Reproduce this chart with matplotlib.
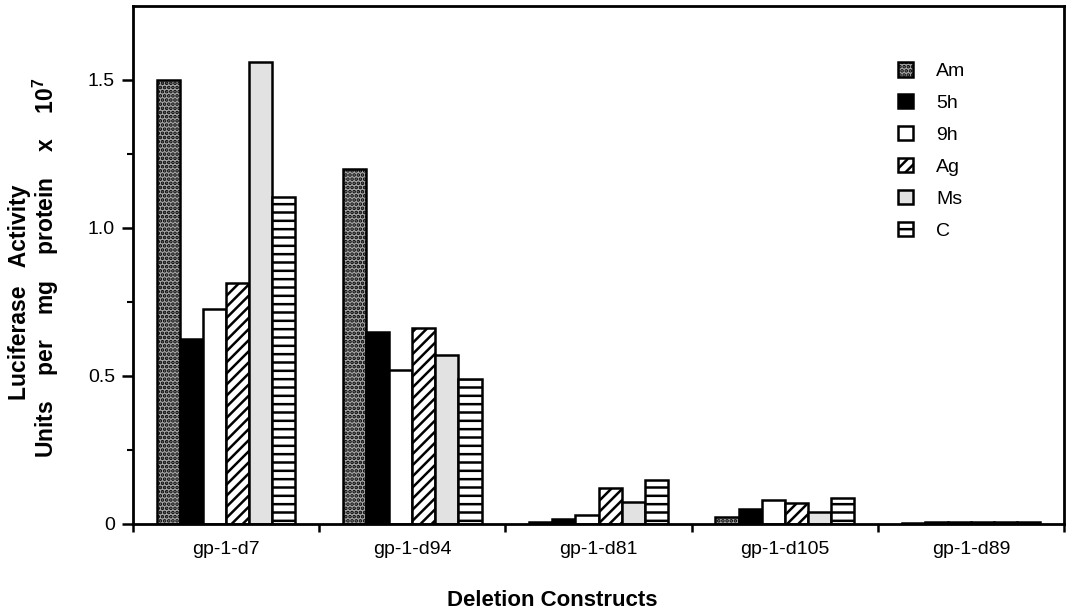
import matplotlib
matplotlib.use("Agg")
import matplotlib.pyplot as plt
import numpy as np
from matplotlib.patches import Patch
from matplotlib.ticker import FixedLocator

plt.rcParams['font.family'] = ['Liberation Sans', 'DejaVu Sans']
plt.rcParams['mathtext.fontset'] = 'custom'
plt.rcParams['mathtext.rm'] = 'Liberation Sans'
plt.rcParams['mathtext.bf'] = 'Liberation Sans:bold'
plt.rcParams['hatch.linewidth'] = 1.8

constructs = ["gp-1-d7", "gp-1-d94", "gp-1-d81", "gp-1-d105", "gp-1-d89"]
series = ["Am", "5h", "9h", "Ag", "Ms", "C"]
am = [1.50, 1.20, 0.007, 0.022, 0.005]
h5 = [0.625, 0.649, 0.018, 0.052, 0.006]
h9 = [0.726, 0.52, 0.030, 0.080, 0.007]
ag = [0.814, 0.662, 0.122, 0.070, 0.007]
ms = [1.56, 0.571, 0.074, 0.040, 0.008]
c = [1.105, 0.49, 0.147, 0.088, 0.008]
values = [am, h5, h9, ag, ms, c]
ytick_vals = [0, 0.5, 1.0, 1.5]
ytick_labels = ["0", "0.5", "1.0", "1.5"]

styles = [
    dict(facecolor='#a6a6a6', hatch='....'),
    dict(facecolor='black', hatch=None),
    dict(facecolor='white', hatch=None),
    dict(facecolor='white', hatch='///'),
    dict(facecolor='#e2e2e2', hatch=None),
    dict(facecolor='white', hatch='--'),
]

fig = plt.figure(figsize=(10.68, 6.15), dpi=100)
ax = fig.add_axes([133/1068, (615-524)/615, (1064-133)/1068, (524-6)/615])

x = np.arange(len(constructs))
w = 0.124
for i, (vals, st) in enumerate(zip(values, styles)):
    ax.bar(x + (i - 2.5) * w, vals, width=w, facecolor=st['facecolor'],
           hatch=st['hatch'], edgecolor='black', linewidth=1.8, zorder=2)

ax.set_xlim(-0.5, 4.5)
ax.set_ylim(0, 1.75)
ax.set_xticks(x)
ax.set_xticklabels(constructs, fontsize=14)
ax.xaxis.set_minor_locator(FixedLocator(np.arange(-0.5, 5.0, 1.0)))
ax.tick_params(axis='x', which='major', length=0, pad=12)
ax.tick_params(axis='x', which='minor', length=6, width=1.8, direction='out')
ax.set_yticks(ytick_vals)
ax.set_yticklabels(ytick_labels, fontsize=14)
ax.yaxis.set_minor_locator(FixedLocator([0.25, 0.75, 1.25]))
ax.tick_params(axis='y', which='major', length=8, width=1.8, direction='out', pad=5)
ax.tick_params(axis='y', which='minor', length=4, width=1.5, direction='out')
for s in ax.spines.values():
    s.set_linewidth(2.0)

handles = [Patch(facecolor=st['facecolor'], hatch=st['hatch'], edgecolor='black',
                 linewidth=1.8) for st in styles]
ax.legend(handles, series, loc='upper left', bbox_to_anchor=(0.803, 0.925),
          frameon=False, fontsize=14, handlelength=0.75, handleheight=0.75,
          labelspacing=0.72, handletextpad=1.2)

fig.text(552/1068, (615-600)/615, "Deletion Constructs", ha='center', va='center',
         fontsize=16, fontweight='bold')
fig.text(20/1068, (615-292)/615, "Luciferase   Activity", rotation=90, ha='center',
         va='center', fontsize=16.5, fontweight='bold')
fig.text(46/1068, (615-268)/615,
         r"Units    per    mg    protein    x    10$^{\mathbf{7}}$", rotation=90,
         ha='center', va='center', fontsize=16.5, fontweight='bold')

fig.savefig("out.png", dpi=100)
